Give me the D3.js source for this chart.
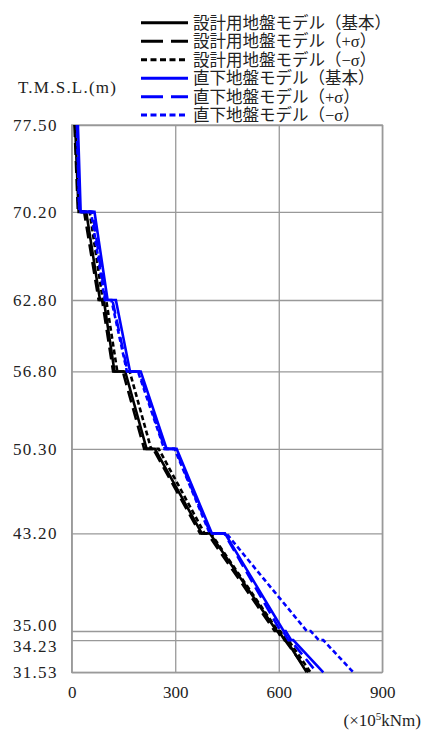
<!DOCTYPE html>
<html><head><meta charset="utf-8">
<script src="https://cdn.jsdelivr.net/npm/d3@7"></script>
<style>body{margin:0;background:#fff} svg{display:block}</style>
</head><body><svg id="c" width="423" height="734"></svg>
<script>
// ---- data ----
const levels = [77.5, 70.2, 62.8, 56.8, 50.3, 43.2, 35.0, 34.23, 31.53];
const levelLabels = ["77.50","70.20","62.80","56.80","50.30","43.20","35.00","34.23","31.53"];
const xTicks = [0, 300, 600, 900];
const xTickLabels = ["0","300","600","900"];

const seriesNames = [
  "設計用地盤モデル（基本）",
  "設計用地盤モデル（+σ）",
  "設計用地盤モデル（−σ）",
  "直下地盤モデル（基本）",
  "直下地盤モデル（+σ）",
  "直下地盤モデル（−σ）"
];
// [moment (x10^5 kNm), T.M.S.L. (m)]
const designBase = [[10,77.5],[20,70.2],[42,70.2],[82,62.8],[93,62.8],[124,56.8],[155,56.8],[217,50.3],[241,50.3],[377,43.2],[400,43.2],[594,35.0],[600,35.0],[617,34.23],[622,34.23],[681,31.53]];
const designPlus = [[8,77.5],[18,70.2],[36,70.2],[78,62.8],[88,62.8],[120,56.8],[148,56.8],[210,50.3],[236,50.3],[372,43.2],[393,43.2],[588,35.0],[596,35.0],[612,34.23],[618,34.23],[686,31.53]];
const designMinus = [[11,77.5],[22,70.2],[52,70.2],[90,62.8],[100,62.8],[132,56.8],[168,56.8],[230,50.3],[252,50.3],[385,43.2],[403,43.2],[598,35.0],[604,35.0],[622,34.23],[628,34.23],[692,31.53]];
const directBase = [[18,77.5],[26,70.2],[66,70.2],[104,62.8],[128,62.8],[169,56.8],[200,56.8],[275,50.3],[304,50.3],[406,43.2],[444,43.2],[614,35.0],[620,35.0],[636,34.23],[642,34.23],[729,31.53]];
const directPlus = [[16,77.5],[22,70.2],[60,70.2],[98,62.8],[118,62.8],[162,56.8],[195,56.8],[270,50.3],[300,50.3],[402,43.2],[442,43.2],[605,35.0],[612,35.0],[628,34.23],[634,34.23],[710,31.53]];
const directMinus = [[15,77.5],[22,70.2],[56,70.2],[96,62.8],[115,62.8],[160,56.8],[192,56.8],[268,50.3],[298,50.3],[400,43.2],[448,43.2],[681,35.0],[692,35.0],[716,34.23],[729,34.23],[816,31.53]];

const seriesData = [designBase, designPlus, designMinus, directBase, directPlus, directMinus];
const seriesColors = ["#000000","#000000","#000000","#0000ff","#0000ff","#0000ff"];
const seriesDash = [null, "12,6", "5,3", null, "12,6", "5,3"];

// ---- layout ----
const svg = d3.select("#c");
const L = 71.7, R = 382.3, T = 125, B = 672.3;
const x = d3.scaleLinear().domain([0, 900]).range([L, R]);
const y = d3.scaleLinear().domain([31.53, 77.5]).range([B, T]);
const numFont = "'Liberation Serif','DejaVu Serif',serif";
const jpFont = "'Liberation Serif','Noto Sans CJK JP',serif";
const gridColor = "#999";

// y axis with grid
const yAxis = d3.axisLeft(y).tickValues(levels)
  .tickFormat((d,i) => levelLabels[i]).tickSize(-(R - L)).tickPadding(14);
const gy = svg.append("g").attr("transform", `translate(${L},0)`).call(yAxis);
gy.select(".domain").remove();
gy.selectAll(".tick line").attr("stroke", gridColor).attr("stroke-width", 1.3);
gy.selectAll(".tick text").attr("font-family", numFont).attr("font-size", 17)
  .attr("fill", "#222").attr("letter-spacing", "1.3px");
// avoid overlapping labels
{
  const pos = levels.map(d => y(d));
  const adj = pos.slice();
  for (let k = 0; k < 5; k++) {
    for (let i = 1; i < adj.length; i++) {
      const gap = adj[i] - adj[i-1];
      if (gap < 21) { const s = (21 - gap) / 2; adj[i-1] -= s; adj[i] += s; }
    }
  }
  gy.selectAll(".tick text").attr("y", (d,i) => adj[i] - pos[i]);
}

// x axis with grid
const xAxis = d3.axisBottom(x).tickValues(xTicks)
  .tickFormat((d,i) => xTickLabels[i]).tickSize(-(B - T)).tickPadding(14);
const gx = svg.append("g").attr("transform", `translate(0,${B})`).call(xAxis);
gx.select(".domain").remove();
gx.selectAll(".tick line").attr("stroke", gridColor).attr("stroke-width", 1.3);
gx.selectAll(".tick text").attr("font-family", numFont).attr("font-size", 17).attr("fill", "#222");

// frame
svg.append("rect").attr("x", L).attr("y", T).attr("width", R - L).attr("height", B - T)
  .attr("fill", "none").attr("stroke", gridColor).attr("stroke-width", 1.3);

// series
const line = d3.line().x(d => x(d[0])).y(d => y(d[1]));
seriesData.forEach((s, i) => {
  svg.append("path").datum(s).attr("d", line).attr("fill", "none")
    .attr("stroke", seriesColors[i]).attr("stroke-width", 2.6)
    .attr("stroke-dasharray", seriesDash[i]);
});

// axis titles
svg.append("text").attr("x", 18).attr("y", 93).text("T.M.S.L.(m)")
  .attr("font-family", numFont).attr("font-size", 17).attr("fill", "#222")
  .attr("textLength", 98).attr("lengthAdjust", "spacing");
const unit = svg.append("text").attr("x", 421).attr("y", 726).attr("text-anchor", "end")
  .attr("font-family", numFont).attr("font-size", 17).attr("fill", "#222");
unit.append("tspan").text("(×10");
unit.append("tspan").text("5").attr("font-size", 11).attr("dy", -6);
unit.append("tspan").text("kNm)").attr("dy", 6);

// legend
const legRows = [22.7, 41.3, 59.8, 78.3, 96.7, 115.1];
const lg = svg.append("g");
seriesNames.forEach((n, i) => {
  lg.append("line").attr("x1", 141).attr("x2", 188).attr("y1", legRows[i]).attr("y2", legRows[i])
    .attr("stroke", seriesColors[i]).attr("stroke-width", 3)
    .attr("stroke-dasharray", seriesDash[i] ? (i % 3 === 1 ? "22,8" : "6,3.5") : null);
  lg.append("text").attr("x", 193).attr("y", legRows[i]).attr("dy", "0.36em")
    .text(n).attr("font-family", jpFont).attr("font-size", 16.5).attr("fill", "#222");
});
</script></body></html>
